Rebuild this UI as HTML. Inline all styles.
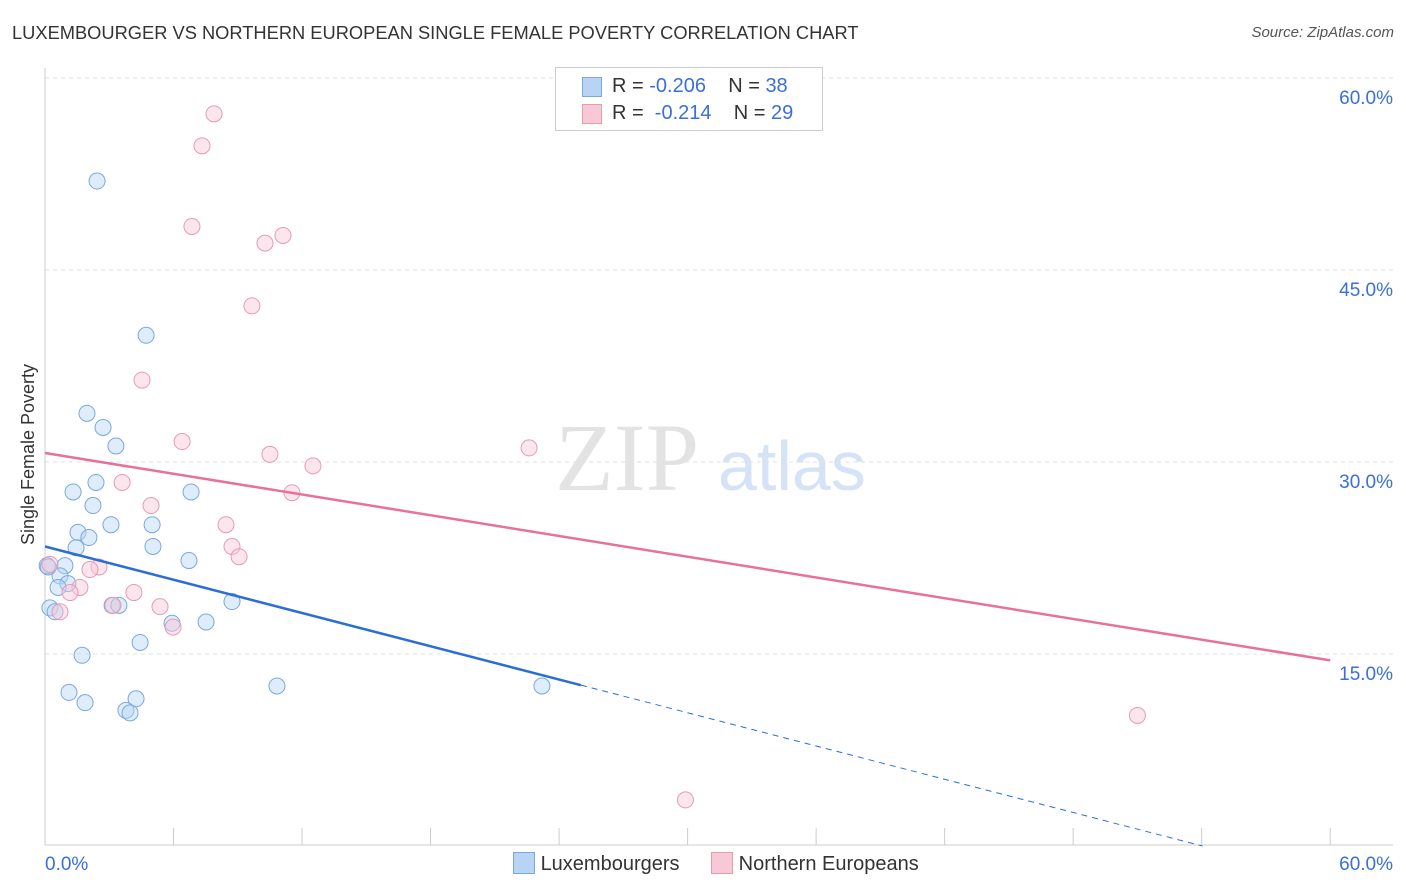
<!DOCTYPE html>
<html><head><meta charset="utf-8"><style>
body{margin:0;background:#fff;font-family:"Liberation Sans",sans-serif;}
#wrap{position:relative;width:1406px;height:892px;overflow:hidden;}
.t{position:absolute;white-space:nowrap;}
</style></head><body>
<div id="wrap">
<div class="t" style="left:12px;top:22px;font-size:18.3px;color:#333;">LUXEMBOURGER VS NORTHERN EUROPEAN SINGLE FEMALE POVERTY CORRELATION CHART</div>
<div class="t" style="right:12px;top:24px;font-size:15px;color:#555;font-style:italic;">Source: ZipAtlas.com</div>
<div class="t" style="left:-62px;top:444px;font-size:18px;color:#333;transform:rotate(-90deg);">Single Female Poverty</div>
<svg id="svg" width="1406" height="892" style="position:absolute;left:0;top:0;"></svg>
<div style="position:absolute;left:555px;top:67px;width:266px;height:62px;border:1px solid #ccc;background:#fff;font-size:20px;">
 <div style="position:absolute;left:26px;top:9px;width:18px;height:18px;background:#b8d4f5;border:1px solid #7aa8e0;"></div>
 <div class="t" style="left:56px;top:7px;color:#333;">R = <span style="color:#3a6fd8">-0.206</span>&nbsp;&nbsp;&nbsp; N = <span style="color:#3a6fd8">38</span></div>
 <div style="position:absolute;left:26px;top:36px;width:18px;height:18px;background:#f9c8d6;border:1px solid #e89ab2;"></div>
 <div class="t" style="left:56px;top:34px;color:#333;">R = &nbsp;<span style="color:#3a6fd8">-0.214</span>&nbsp;&nbsp;&nbsp; N = <span style="color:#3a6fd8">29</span></div>
</div>
<div style="position:absolute;left:513px;top:852px;font-size:20px;color:#333;">
 <span style="display:inline-block;width:20px;height:20px;background:#b8d4f5;border:1px solid #7aa8e0;vertical-align:-4px;"></span> <span>Luxembourgers</span>
 <span style="display:inline-block;width:20px;height:20px;background:#f9c8d6;border:1px solid #e89ab2;vertical-align:-4px;margin-left:26px;"></span> <span>Northern Europeans</span>
</div>
</div>
<script>
const yTicks=[15,30,45,60];
const yTickLabels=["15.0%","30.0%","45.0%","60.0%"];
const luxX=[2.43,4.72,1.96,2.71,3.31,1.31,2.38,6.82,2.24,3.08,5.0,1.54,2.05,5.04,1.45,6.72,0.93,0.1,0.7,1.07,0.61,3.13,3.45,8.73,0.23,0.47,5.93,7.52,4.44,1.73,10.83,23.2,1.12,1.87,4.25,3.78,3.97,0.15];
const luxY=[51.95,39.9,33.8,32.7,31.25,27.66,28.4,27.66,26.6,25.1,25.1,24.5,24.1,23.4,23.3,22.3,21.9,21.9,21.1,20.5,20.2,18.8,18.8,19.1,18.6,18.3,17.4,17.5,15.9,14.9,12.5,12.5,12.0,11.2,11.5,10.6,10.4,21.8];
const neX=[7.89,7.33,6.86,11.11,10.27,9.66,4.53,6.4,22.6,10.5,12.51,3.6,11.53,4.95,8.45,8.73,9.06,0.23,2.52,2.1,1.63,1.17,4.15,3.17,5.37,0.7,5.98,51.0,29.9];
const neY=[57.2,54.7,48.4,47.7,47.1,42.2,36.4,31.6,31.1,30.6,29.7,28.4,27.6,26.6,25.1,23.4,22.6,22.0,21.8,21.6,20.2,19.8,19.8,18.8,18.7,18.3,17.1,10.2,3.6];
const luxTrend=[23.4,-0.433];
const neTrend=[30.7,-0.27];
const X=v=>45+v*21.42, Y=v=>846-v*12.8;
const svg=document.getElementById('svg');const NS='http://www.w3.org/2000/svg';
function mk(tag,a){const e=document.createElementNS(NS,tag);for(const k in a)e.setAttribute(k,a[k]);svg.appendChild(e);return e;}
let wm=mk('text',{x:555,y:490,'font-size':96,fill:'#e3e3e3','font-family':'Liberation Serif'});wm.textContent='ZIP';


let wm2=mk('text',{x:718,y:490,'font-size':70,fill:'#d4e3f5','font-family':'Liberation Sans'});wm2.textContent='atlas';


yTicks.forEach((t,i)=>{
 let l=mk('line',{x1:45,x2:1393,y1:Y(t),y2:Y(t),stroke:'#e0e0e0','stroke-dasharray':'4,4'});
 
 
 let tx=mk('text',{x:1393,y:Y(t)+26,'text-anchor':'end','font-size':19,fill:'#3a6fd8'});tx.textContent=yTickLabels[i];
 
 
});
let ax=mk('line',{x1:45,x2:1393,y1:845,y2:845,stroke:'#ccc'});


let ay=mk('line',{x1:45,x2:45,y1:68,y2:845,stroke:'#ccc'});


for(let i=1;i<=10;i++){let tk=mk('line',{x1:X(i*6),x2:X(i*6),y1:828,y2:845,stroke:'#ccc'});
 
 }
let x0=mk('text',{x:45,y:870,'font-size':19,fill:'#3a6fd8'});x0.textContent='0.0%';


let x1=mk('text',{x:1393,y:870,'text-anchor':'end','font-size':19,fill:'#3a6fd8'});x1.textContent='60.0%';


function pts(xs,ys,fill,stroke,name){xs.forEach((x,i)=>{let c=mk('circle',{cx:X(x),cy:Y(ys[i]),r:8,fill:fill,'fill-opacity':0.45,stroke:stroke,'stroke-width':1});
 
 });}
pts(luxX,luxY,'#b8d4f5','#7aa8e0','lux-point');
pts(neX,neY,'#f9c8d6','#e89ab2','ne-point');
const luxEnd=25.02;
let bl=mk('line',{x1:X(0),y1:Y(luxTrend[0]),x2:X(luxEnd),y2:Y(luxTrend[0]+luxTrend[1]*luxEnd),stroke:'#2b6fd6','stroke-width':2.5});


const zx=-luxTrend[0]/luxTrend[1];
let bd=mk('line',{x1:X(luxEnd),y1:Y(luxTrend[0]+luxTrend[1]*luxEnd),x2:X(zx),y2:Y(0),stroke:'#2b6fd6','stroke-width':1,'stroke-dasharray':'6,5'});


let pl=mk('line',{x1:X(0),y1:Y(neTrend[0]),x2:X(60),y2:Y(neTrend[0]+neTrend[1]*60),stroke:'#e8719a','stroke-width':2.5});


</script>
</body></html>
